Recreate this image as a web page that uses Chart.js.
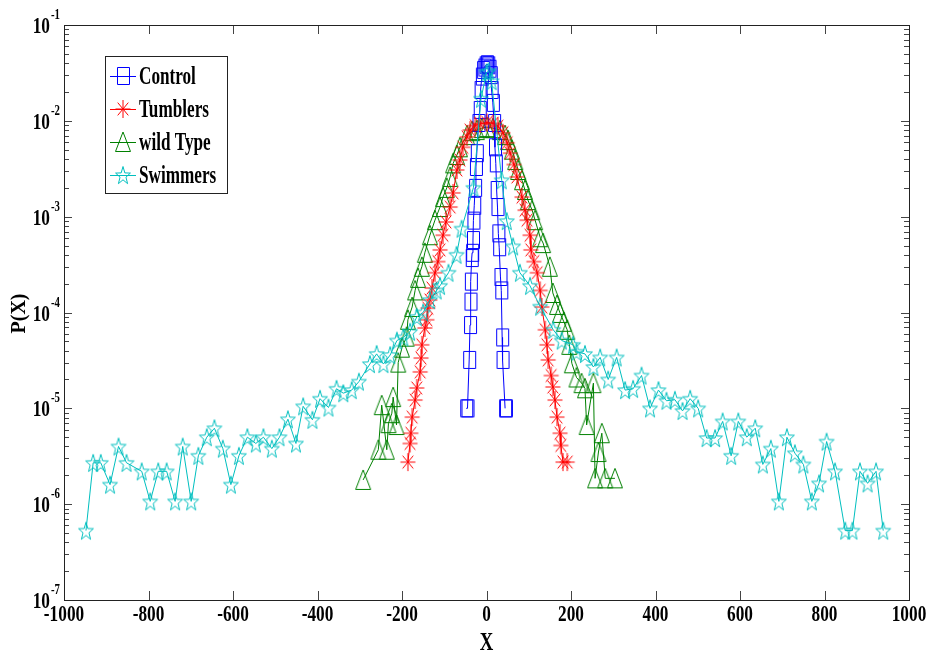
<!DOCTYPE html>
<html>
<head>
<meta charset="utf-8">
<script src="https://cdn.jsdelivr.net/npm/chart.js@4/dist/chart.umd.min.js"></script>
<style>
  body { margin: 0; background: #fff; }
  canvas { display: block; }
</style>
</head>
<body>
<canvas id="myChart" width="929" height="655"></canvas>
<script>

// displacement histograms, P(X) on a log axis

const controlX = [-48, -45, -41, -39, -38, -37, -35, -34, -32, -31, -29, -27, -25, -23, -19, -16, -14, -11, -8, -5, -2, 1, 4, 7, 10, 12, 15, 18, 20, 22, 24, 26, 28, 30, 33, 35, 37, 38, 44, 46];
const controlP = [1.0e-5, 1.0e-5, 3.2e-5, 7.4e-5, 1.3e-4, 2.1e-4, 3.7e-4, 4.2e-4, 5.7e-4, 9.1e-4, 1.3e-3, 2.0e-3, 3.3e-3, 4.6e-3, 9.5e-3, 1.3e-2, 2.1e-2, 2.9e-2, 3.4e-2, 3.6e-2, 3.8e-2, 3.9e-2, 3.8e-2, 3.5e-2, 3.0e-2, 2.1e-2, 1.54e-2, 9.5e-3, 5.3e-3, 3.6e-3, 1.9e-3, 1.26e-3, 6.7e-4, 4.8e-4, 2.35e-4, 1.7e-4, 5.5e-5, 3.2e-5, 1.0e-5, 1.0e-5];

const tumblersX = [-186, -181, -179, -176, -169, -165, -157, -155, -153, -146, -141, -139, -134, -129, -122, -115, -110, -103, -96, -86, -79, -70, -63, -56, -46, -39, -27, -15, 1, 15, 27, 39, 49, 56, 65, 72, 84, 91, 96, 103, 105, 112, 120, 127, 131, 139, 143, 146, 153, 157, 162, 167, 174, 176, 181, 191];
const tumblersP = [2.75e-6, 4.3e-6, 5.5e-6, 8.1e-6, 1.22e-5, 1.63e-5, 2.4e-5, 3.35e-5, 4.6e-5, 6.9e-5, 8.4e-5, 1.11e-4, 1.35e-4, 1.8e-4, 2.6e-4, 3.4e-4, 4.5e-4, 6.4e-4, 8.8e-4, 1.26e-3, 1.77e-3, 3.07e-3, 3.9e-3, 5.3e-3, 6.8e-3, 8.0e-3, 8.9e-3, 9.3e-3, 9.6e-3, 9.4e-3, 8.8e-3, 7.5e-3, 5.9e-3, 4.6e-3, 3.5e-3, 2.6e-3, 1.6e-3, 1.17e-3, 9.2e-4, 6.4e-4, 4.5e-4, 3.4e-4, 2.6e-4, 1.7e-4, 1.14e-4, 6.6e-5, 4.6e-5, 3.2e-5, 2.2e-5, 1.67e-5, 1.22e-5, 8.1e-6, 5.5e-6, 4.1e-6, 2.75e-6, 2.75e-6];

const wildX = [-292, -256, -248, -236, -232, -224, -221, -213, -209, -200, -189, -186, -176, -169, -162, -153, -146, -134, -122, -110, -103, -94, -86, -79, -70, -63, -46, -34, -23, -11, 1, 15, 32, 44, 51, 60, 68, 75, 84, 91, 98, 108, 115, 127, 134, 150, 157, 167, 174, 183, 191, 196, 202, 213, 225, 233, 237, 253, 257, 265, 273, 281, 304];
const wildP = [1.79e-6, 3.7e-6, 1.08e-5, 3.7e-6, 7.0e-6, 8.9e-6, 1.31e-5, 6.7e-6, 3.0e-5, 4.3e-5, 5.6e-5, 8.4e-5, 1.14e-4, 1.7e-4, 2.3e-4, 3.0e-4, 4.2e-4, 6.4e-4, 9.2e-4, 1.26e-3, 1.6e-3, 2.0e-3, 2.6e-3, 3.6e-3, 4.4e-3, 5.3e-3, 7.1e-3, 7.8e-3, 8.0e-3, 8.4e-3, 8.6e-3, 8.4e-3, 8.0e-3, 7.1e-3, 6.3e-3, 5.0e-3, 3.9e-3, 3.07e-3, 2.4e-3, 1.9e-3, 1.49e-3, 1.17e-3, 9.2e-4, 6.1e-4, 5.3e-4, 3.0e-4, 1.6e-4, 1.2e-4, 9.9e-5, 8.0e-5, 6.6e-5, 4.6e-5, 2.95e-5, 2.1e-5, 1.83e-5, 1.62e-5, 6.7e-6, 1.83e-5, 1.86e-6, 3.5e-6, 5.5e-6, 1.86e-6, 1.86e-6];

const swimmersX = [-948, -931, -913, -891, -871, -852, -816, -796, -777, -757, -737, -719, -699, -682, -662, -644, -624, -605, -586, -566, -546, -528, -508, -490, -470, -451, -434, -412, -394, -374, -355, -339, -319, -302, -276, -260, -244, -228, -212, -197, -181, -165, -150, -134, -118, -110, -90, -71, -59, -31, -13, 0, 5, 12, 36, 48, 63, 79, 103, 127, 158, 178, 205, 213, 233, 253, 269, 288, 308, 328, 347, 367, 387, 407, 426, 446, 464, 482, 501, 521, 541, 559, 579, 596, 616, 636, 654, 673, 692, 711, 730, 750, 770, 787, 805, 825, 849, 866, 884, 902, 922, 939];
const swimmersP = [5.3e-7, 2.7e-6, 2.7e-6, 1.6e-6, 4.0e-6, 2.7e-6, 2.2e-6, 1.07e-6, 2.2e-6, 2.2e-6, 1.07e-6, 4.0e-6, 1.07e-6, 3.2e-6, 5.0e-6, 6.2e-6, 3.8e-6, 1.6e-6, 3.2e-6, 5.0e-6, 4.3e-6, 5.0e-6, 3.8e-6, 5.0e-6, 7.7e-6, 4.3e-6, 1.05e-5, 7.6e-6, 1.26e-5, 1.02e-5, 1.6e-5, 1.44e-5, 1.55e-5, 1.9e-5, 2.9e-5, 3.7e-5, 2.9e-5, 3.6e-5, 5.1e-5, 5.5e-5, 6.3e-5, 9.0e-5, 1.0e-4, 1.35e-4, 1.7e-4, 1.9e-4, 2.6e-4, 4.0e-4, 7.5e-4, 2.0e-3, 1.7e-2, 3.2e-2, 3.3e-2, 2.6e-2, 2.4e-3, 9.0e-4, 4.9e-4, 2.6e-4, 1.9e-4, 1.15e-4, 6.6e-5, 5.1e-5, 4.6e-5, 3.9e-5, 3.7e-5, 2.7e-5, 3.4e-5, 2.0e-5, 3.4e-5, 1.55e-5, 1.6e-5, 2.2e-5, 1.0e-5, 1.55e-5, 1.2e-5, 1.23e-5, 9.4e-6, 1.26e-5, 1.0e-5, 4.9e-6, 4.9e-6, 7.3e-6, 3.2e-6, 7.3e-6, 5.0e-6, 6.2e-6, 2.6e-6, 3.8e-6, 1.07e-6, 5.0e-6, 3.4e-6, 2.6e-6, 1.07e-6, 1.65e-6, 4.5e-6, 2.2e-6, 5.3e-7, 5.3e-7, 2.2e-6, 1.65e-6, 2.2e-6, 5.3e-7];

// axis ticks
const xTicks = [-1000, -800, -600, -400, -200, 0, 200, 400, 600, 800, 1000];
const yExps = [-7, -6, -5, -4, -3, -2, -1];

const names = ['Control', 'Tumblers', 'wild Type', 'Swimmers'];
const colors = ['#0000ff', '#ff0000', '#008000', '#00bfbf'];
const FONT = '"Liberation Serif", "Times New Roman", serif';

// matlab-like markers, narrower than tall
function makeMarker(kind, color){
    const c = document.createElement('canvas');
    c.width = 18; c.height = 22;
    const g = c.getContext('2d');
    g.strokeStyle = color;
    g.lineWidth = 1;
    const cx = 9, cy = 11;
    g.beginPath();
    if(kind == 'square'){
        g.rect(3.5, 2.5, 12, 17);
    }
    else if(kind == 'asterisk'){
        g.moveTo(cx - 7.5, cy); g.lineTo(cx + 7.5, cy);
        g.moveTo(cx, cy - 9); g.lineTo(cx, cy + 9);
        g.moveTo(cx - 5.3, cy - 6.4); g.lineTo(cx + 5.3, cy + 6.4);
        g.moveTo(cx + 5.3, cy - 6.4); g.lineTo(cx - 5.3, cy + 6.4);
    }
    else if(kind == 'triangle'){
        g.moveTo(cx, cy - 10);
        g.lineTo(cx + 7.5, cy + 9.5);
        g.lineTo(cx - 7.5, cy + 9.5);
        g.closePath();
    }
    else {
        for(let i = 0; i < 10; i++){
            const r = i % 2 == 0 ? 9.5 : 3.8;
            const a = -Math.PI / 2 + i * Math.PI / 5;
            const px = cx + Math.cos(a) * r * 0.82;
            const py = cy + 1 + Math.sin(a) * r;
            if(i == 0) g.moveTo(px, py); else g.lineTo(px, py);
        }
        g.closePath();
    }
    g.stroke();
    return c;
}

const markers = [
    makeMarker('square', colors[0]),
    makeMarker('asterisk', colors[1]),
    makeMarker('triangle', colors[2]),
    makeMarker('star', colors[3])
];

function pts(xs, ps){
    return xs.map((x, i) => ({x: x, y: ps[i]}));
}

function series(k, xs, ps){
    return {
        label: names[k],
        data: pts(xs, ps),
        showLine: true,
        borderColor: colors[k],
        borderWidth: 1,
        pointStyle: markers[k],
        pointRadius: 6,
        pointHoverRadius: 6
    };
}

// condensed bold serif text
function txt(ctx, s, x, y, size, align, sx){
    ctx.save();
    ctx.translate(x, y);
    ctx.scale(sx, 1);
    ctx.font = 'bold ' + size + 'px ' + FONT;
    ctx.textAlign = align;
    ctx.textBaseline = 'alphabetic';
    ctx.fillStyle = '#000';
    ctx.fillText(s, 0, 0);
    ctx.restore();
}

const axesPlugin = {
    id: 'axesPlugin',
    beforeDraw(chart){
        const ctx = chart.ctx;
        ctx.save();
        ctx.fillStyle = '#fff';
        ctx.fillRect(0, 0, chart.width, chart.height);
        ctx.restore();
    },
    afterDraw(chart){
        const ctx = chart.ctx;
        const a = chart.chartArea;
        const xs = chart.scales.x, ys = chart.scales.y;
        ctx.save();

        // ticks pointing inward
        ctx.strokeStyle = '#444';
        ctx.lineWidth = 1;
        ctx.beginPath();
        xTicks.forEach(v => {
            const px = Math.round(xs.getPixelForValue(v)) + 0.5;
            ctx.moveTo(px, a.bottom); ctx.lineTo(px, a.bottom - 9);
            ctx.moveTo(px, a.top); ctx.lineTo(px, a.top + 9);
        });
        yExps.forEach(e => {
            for(let m = 1; m < 10; m++){
                if(e == -1 && m > 1) break;
                const py = Math.round(ys.getPixelForValue(m * Math.pow(10, e))) + 0.5;
                const len = m == 1 ? 8 : 5;
                ctx.moveTo(a.left, py); ctx.lineTo(a.left + len, py);
                ctx.moveTo(a.right, py); ctx.lineTo(a.right - len, py);
            }
        });
        ctx.stroke();

        // frame
        ctx.strokeStyle = '#222';
        ctx.strokeRect(Math.round(a.left) + 0.5, Math.round(a.top) + 0.5, Math.round(a.right - a.left), Math.round(a.bottom - a.top));

        // tick labels
        xTicks.forEach(v => {
            txt(ctx, String(v), xs.getPixelForValue(v), a.bottom + 21, 24, 'center', 0.72);
        });
        yExps.forEach(e => {
            const py = ys.getPixelForValue(Math.pow(10, e));
            txt(ctx, '10', 50, py + 8, 24, 'right', 0.72);
            txt(ctx, String(e), 51, py - 6, 15, 'left', 0.72);
        });

        // axis titles
        txt(ctx, 'X', (a.left + a.right) / 2, 650, 26, 'center', 0.72);
        ctx.save();
        ctx.translate(25, (a.top + a.bottom) / 2 + 1);
        ctx.rotate(-Math.PI / 2);
        txt(ctx, 'P(X)', 0, 0, 20, 'center', 1);
        ctx.restore();

        // legend
        ctx.fillStyle = '#fff';
        ctx.fillRect(105, 56, 122, 137);
        ctx.strokeStyle = '#222';
        ctx.strokeRect(105.5, 56.5, 122, 137);
        names.forEach((n, i) => {
            const cy = 76 + i * 33;
            ctx.strokeStyle = colors[i];
            ctx.beginPath();
            ctx.moveTo(110, cy + 0.5); ctx.lineTo(136, cy + 0.5);
            ctx.stroke();
            const mk = markers[i];
            ctx.drawImage(mk, 123 - mk.width / 2, cy - mk.height / 2);
            txt(ctx, n, 139, cy + 8, 26, 'left', 0.66);
        });

        ctx.restore();
    }
};

const ctx = document.getElementById('myChart').getContext('2d');

const myChart = new Chart(ctx, {
    type: 'scatter',
    data: {
        datasets: [
            series(3, swimmersX, swimmersP),
            series(1, tumblersX, tumblersP),
            series(0, controlX, controlP),
            series(2, wildX, wildP)
        ]
    },
    options: {
        responsive: false,
        animation: false,
        devicePixelRatio: 1,
        layout: { padding: { left: 64, top: 25, right: 20, bottom: 55 } },
        plugins: {
            legend: { display: false },
            tooltip: { enabled: false }
        },
        scales: {
            x: { type: 'linear', min: -1000, max: 1000, display: false },
            y: { type: 'logarithmic', min: 1e-7, max: 1e-1, display: false }
        }
    },
    plugins: [axesPlugin]
});

</script>
</body>
</html>
